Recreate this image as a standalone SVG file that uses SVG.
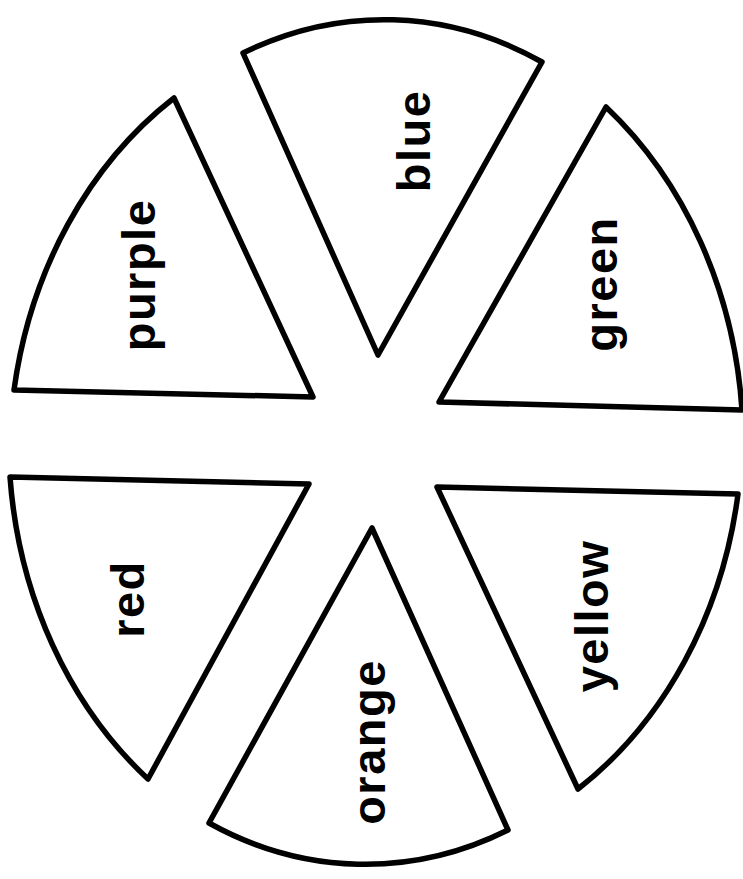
<svg xmlns="http://www.w3.org/2000/svg" width="743" height="879" viewBox="0 0 743 879">
  <style>
    .sector { fill: #ffffff; stroke: #000000; stroke-width: 5.5; stroke-linejoin: round; }
    .label { font-family: "Liberation Sans", Arial, sans-serif; font-weight: bold; font-size: 47px; fill: #000000; text-anchor: middle; letter-spacing: 1.5px; }
  </style>
  <rect x="0" y="0" width="743" height="879" fill="#ffffff"/>
  <g id="blue">
    <path class="sector" d="M378,355 L243,53 A366,432 0 0 1 542,62 Z"/>
    <text class="label" transform="translate(430,141) rotate(-90)">blue</text>
  </g>
  <g id="purple">
    <path class="sector" d="M313,397 L14,390 A366,432 0 0 1 174,98 Z"/>
    <text class="label" transform="translate(155,275) rotate(-90)">purple</text>
  </g>
  <g id="green">
    <path class="sector" d="M439,402 L606,107 A366,432 0 0 1 742,410 Z"/>
    <text class="label" transform="translate(617,284) rotate(-90)">green</text>
  </g>
  <g id="red">
    <path class="sector" d="M309,484 L148,779 A366,432 0 0 1 10,477 Z"/>
    <text class="label" transform="translate(144,599) rotate(-90)">red</text>
  </g>
  <g id="orange">
    <path class="sector" d="M372,528 L508,830 A366,432 0 0 1 209,823 Z"/>
    <text class="label" transform="translate(385,742) rotate(-90)">orange</text>
  </g>
  <g id="yellow">
    <path class="sector" d="M437,487 L738,494 A366,432 0 0 1 578,789 Z"/>
    <text class="label" transform="translate(608,616) rotate(-90)">yellow</text>
  </g>
  <g id="connectors"></g>
</svg>
